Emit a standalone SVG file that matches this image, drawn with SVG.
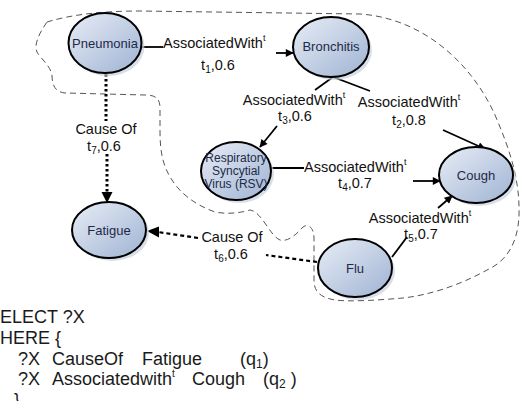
<svg xmlns="http://www.w3.org/2000/svg" width="521" height="401" viewBox="0 0 521 401">
<defs>
<linearGradient id="nodeFill" x1="0" y1="0" x2="1" y2="1">
<stop offset="0" stop-color="#e8edf6"/>
<stop offset="1" stop-color="#9fb3d3"/>
</linearGradient>
<marker id="arrow" viewBox="0 0 10 10" refX="9" refY="5" markerWidth="12" markerHeight="8" markerUnits="userSpaceOnUse" orient="auto">
<path d="M0,0 L10,5 L0,10 Z" fill="#000"/>
</marker>
<style>
.node ellipse.body{fill:url(#nodeFill);stroke:#000;stroke-width:2;}
.node ellipse.shadow{fill:#c9d1de;opacity:0.7;}
.node text{font-family:"Liberation Sans",Arial,sans-serif;font-size:13px;fill:#1e2a48;text-anchor:middle;}
.node text.small{font-size:12px;}
.edge{stroke:#000;stroke-width:1.8;fill:none;}
.dot{stroke:#000;stroke-width:3;fill:none;stroke-dasharray:2.5,2.5;}
.dash{stroke:#000;stroke-width:2.2;fill:none;stroke-dasharray:4,3;}
.lbl{font-family:"Liberation Sans",Arial,sans-serif;font-size:14.5px;fill:#111;}
.q{font-family:"Liberation Sans",Arial,sans-serif;font-size:18px;fill:#1a1a1a;}
.boundary{stroke:#555;stroke-width:1;fill:none;stroke-dasharray:6,4;}
</style>
</defs>
<rect width="521" height="401" fill="#fff"/>

<path class="boundary" d="M47,22 C70,15 100,11 140,11 L360,14 C420,18 470,60 495,115 C510,150 520,180 519,215 C518,245 505,262 487,270 C460,285 430,295 403,298 C380,300 350,302 335,300 C318,297 314,290 314,280 L314,238 C314,228 308,222 302,228 C295,236 287,242 280,240 C270,236 262,212 250,210 C243,212 230,215 215,212 C195,205 180,193 172,180 C162,165 160,150 160,130 L160,108 C160,98 155,95 145,95 L65,93 C55,92 52,85 52,75 C50,65 40,58 37,52 C34,45 38,35 47,22 Z"/>

<g id="connectors">
<line class="edge" x1="142" y1="47" x2="163" y2="47"/>
<line class="edge" x1="276" y1="53" x2="293" y2="53" marker-end="url(#arrow)"/>
<polyline class="edge" points="315,90 333,77 370,91"/>
<line class="edge" x1="277" y1="126" x2="260" y2="147" marker-end="url(#arrow)"/>
<line class="edge" x1="443" y1="130" x2="485" y2="149" marker-end="url(#arrow)"/>
<line class="edge" x1="271" y1="168" x2="304" y2="168"/>
<line class="edge" x1="413" y1="181" x2="440" y2="181" marker-end="url(#arrow)"/>
<line class="edge" x1="392" y1="257" x2="407" y2="237"/>
<line class="edge" x1="438" y1="208" x2="452" y2="196" marker-end="url(#arrow)"/>
<line class="dot" x1="106" y1="74" x2="106" y2="121"/>
<line class="dot" x1="107" y1="154" x2="107" y2="193"/>
<path d="M101.5,192 L112.5,192 L107,203 Z" fill="#000"/>
<line class="dash" x1="317" y1="262" x2="266" y2="255"/>
<line class="dash" x1="198" y1="238" x2="158" y2="232"/>
<path d="M159,226.5 L159,237.5 L147,231 Z" fill="#000"/>

<text class="lbl" x="163" y="48">AssociatedWith<tspan font-size="9" dy="-7">t</tspan></text>
<text class="lbl" x="218" y="70" text-anchor="middle">t<tspan font-size="10" dy="3">1</tspan><tspan dy="-3">,0.6</tspan></text>
<text class="lbl" x="294" y="105" text-anchor="middle">AssociatedWith<tspan font-size="9" dy="-7">t</tspan></text>
<text class="lbl" x="295" y="121" text-anchor="middle">t<tspan font-size="10" dy="3">3</tspan><tspan dy="-3">,0.6</tspan></text>
<text class="lbl" x="409" y="107" text-anchor="middle">AssociatedWith<tspan font-size="9" dy="-7">t</tspan></text>
<text class="lbl" x="409" y="125" text-anchor="middle">t<tspan font-size="10" dy="3">2</tspan><tspan dy="-3">,0.8</tspan></text>
<text class="lbl" x="304" y="172">AssociatedWith<tspan font-size="9" dy="-7">t</tspan></text>
<text class="lbl" x="355" y="188" text-anchor="middle">t<tspan font-size="10" dy="3">4</tspan><tspan dy="-3">,0.7</tspan></text>
<text class="lbl" x="420" y="223" text-anchor="middle">AssociatedWith<tspan font-size="9" dy="-7">t</tspan></text>
<text class="lbl" x="421" y="239" text-anchor="middle">t<tspan font-size="10" dy="3">5</tspan><tspan dy="-3">,0.7</tspan></text>
<text class="lbl" x="106" y="134" text-anchor="middle">Cause Of</text>
<text class="lbl" x="104" y="151" text-anchor="middle">t<tspan font-size="10" dy="3">7</tspan><tspan dy="-3">,0.6</tspan></text>
<text class="lbl" x="232" y="242" text-anchor="middle">Cause Of</text>
<text class="lbl" x="231" y="259" text-anchor="middle">t<tspan font-size="10" dy="3">6</tspan><tspan dy="-3">,0.6</tspan></text>
</g>

<g id="pneumonia" class="node">
<ellipse class="shadow" cx="108" cy="46" rx="36.5" ry="30"/>
<ellipse class="body" cx="105" cy="43" rx="36.5" ry="30"/>
<text x="105" y="48">Pneumonia</text>
</g>
<g id="bronchitis" class="node">
<ellipse class="shadow" cx="334" cy="50" rx="38" ry="30"/>
<ellipse class="body" cx="331" cy="47" rx="38" ry="30"/>
<text x="331" y="51">Bronchitis</text>
</g>
<g id="rsv" class="node">
<ellipse class="shadow" cx="239" cy="174" rx="35" ry="29"/>
<ellipse class="body" cx="236" cy="171" rx="35" ry="29"/>
<text class="small" x="236" y="162">Respiratory</text>
<text class="small" x="236" y="175">Syncytial</text>
<text class="small" x="236" y="188">Virus (RSV)</text>
</g>
<g id="cough" class="node">
<ellipse class="shadow" cx="479" cy="178" rx="37" ry="28"/>
<ellipse class="body" cx="476" cy="175" rx="37" ry="28"/>
<text x="476" y="180">Cough</text>
</g>
<g id="fatigue" class="node">
<ellipse class="shadow" cx="112" cy="233" rx="37" ry="28"/>
<ellipse class="body" cx="109" cy="230" rx="37" ry="28"/>
<text x="109" y="235">Fatigue</text>
</g>
<g id="flu" class="node">
<ellipse class="shadow" cx="358" cy="271" rx="37" ry="29"/>
<ellipse class="body" cx="355" cy="268" rx="37" ry="29"/>
<text x="355" y="273">Flu</text>
</g>

<g id="query">
<text class="q" x="0" y="323">ELECT ?X</text>
<text class="q" x="0" y="344">HERE {</text>
<text class="q" x="18" y="365">?X</text>
<text class="q" x="52" y="365">CauseOf</text>
<text class="q" x="142" y="365">Fatigue</text>
<text class="q" x="240" y="365">(q<tspan font-size="12" dy="3">1</tspan><tspan dy="-3">)</tspan></text>
<text class="q" x="18" y="385">?X</text>
<text class="q" x="52" y="385">Associatedwith<tspan font-size="10" dy="-8">t</tspan></text>
<text class="q" x="192" y="385">Cough</text>
<text class="q" x="263" y="385">(q<tspan font-size="12" dy="3">2</tspan><tspan dy="-3"> )</tspan></text>
<text class="q" x="14" y="406">}</text>
</g>
</svg>
